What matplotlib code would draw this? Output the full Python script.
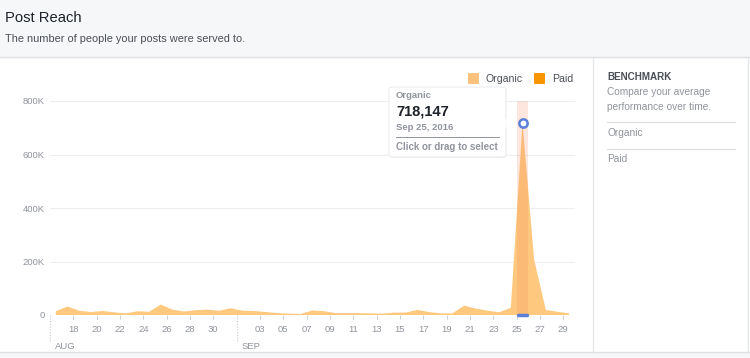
import matplotlib
matplotlib.use("Agg")
import matplotlib.pyplot as plt
import matplotlib.dates as mdates
from matplotlib.patches import Rectangle, FancyBboxPatch, Polygon
from matplotlib.lines import Line2D
import pandas as pd

plt.rcParams['font.family'] = ['Liberation Sans', 'DejaVu Sans']

# ---------------- data ----------------
dates = pd.date_range("2016-08-16", "2016-09-29", freq="D")
organic = [14000, 32000, 16000, 11000, 15000, 10000, 6000, 14000, 12000, 39000,   # Aug 16-25
           20000, 13000, 18000, 20000, 16000, 25000,                              # Aug 26-31
           16000, 15000, 11000, 7000, 5000, 4000, 17000, 14000, 7000, 7000,       # Sep 1-10
           7000, 6000, 5000, 9000, 9000, 19000, 11000, 6000, 6000, 35000,         # Sep 11-20
           24000, 16000, 10000, 27000, 718147, 206000, 19000, 12000, 6000]        # Sep 21-29
paid = [0] * len(organic)
yticks = [0, 200000, 400000, 600000, 800000]
ytick_labels = ["0", "200K", "400K", "600K", "800K"]
label_days = ["2016-08-18", "2016-08-20", "2016-08-22", "2016-08-24", "2016-08-26",
              "2016-08-28", "2016-08-30", "2016-09-03", "2016-09-05", "2016-09-07",
              "2016-09-09", "2016-09-11", "2016-09-13", "2016-09-15", "2016-09-17",
              "2016-09-19", "2016-09-21", "2016-09-23", "2016-09-25", "2016-09-27",
              "2016-09-29"]
month_starts = ["2016-08-16", "2016-09-01"]
month_labels = ["AUG", "SEP"]
hover_date = "2016-09-25"
hover_value = 718147

W, H = 750, 358
fig = plt.figure(figsize=(W / 100, H / 100), dpi=100)
fig.patch.set_facecolor("white")


def fx(px):
    return px / W


def fy(py):
    return 1 - py / H


# header background
fig.add_artist(Rectangle((0, fy(57)), 1, 57 / H, transform=fig.transFigure,
                         facecolor="#f6f7f9", edgecolor="none", zorder=0))
fig.add_artist(Line2D([0, 1], [fy(57), fy(57)], transform=fig.transFigure,
                      color="#dddfe2", lw=1))
# bottom band
fig.add_artist(Rectangle((0, 0), 1, (H - 352) / H, transform=fig.transFigure,
                         facecolor="#f6f7f9", edgecolor="none", zorder=0))
fig.add_artist(Line2D([0, 1], [fy(352), fy(352)], transform=fig.transFigure,
                      color="#dddfe2", lw=1))
# right panel separator
fig.add_artist(Line2D([fx(593), fx(593)], [fy(57), fy(352)], transform=fig.transFigure,
                      color="#e5e6e9", lw=1))
fig.add_artist(Line2D([fx(748), fx(748)], [fy(57), fy(352)], transform=fig.transFigure,
                      color="#e5e6e9", lw=1))

fig.text(fx(5), fy(18), "Post Reach", fontsize=10.6, color="#1d2129", va="center", ha="left")
fig.text(fx(5), fy(39), "The number of people your posts were served to.", fontsize=7.9,
         color="#4b4f56", va="center", ha="left")

# right panel
fig.text(fx(607), fy(77), "BENCHMARK", fontsize=7.1, fontweight="bold", color="#4b4f56",
         va="center")
fig.text(fx(607), fy(92), "Compare your average", fontsize=7.3, color="#90949c", va="center")
fig.text(fx(607), fy(107), "performance over time.", fontsize=7.3, color="#90949c", va="center")
fig.add_artist(Line2D([fx(607), fx(735)], [fy(122), fy(122)], transform=fig.transFigure,
                      color="#dddfe2", lw=0.8))
fig.text(fx(607), fy(133), "Organic", fontsize=7.3, color="#90949c", va="center")
fig.add_artist(Line2D([fx(607), fx(735)], [fy(149), fy(149)], transform=fig.transFigure,
                      color="#dddfe2", lw=0.8))
fig.text(fx(607), fy(159), "Paid", fontsize=7.3, color="#90949c", va="center")

# legend
fig.add_artist(FancyBboxPatch((fx(468), fy(84)), 11 / W, 11 / H, transform=fig.transFigure,
                              boxstyle="round,pad=0,rounding_size=0.002",
                              facecolor="#fcc27d", edgecolor="none"))
fig.text(fx(486), fy(79), "Organic", fontsize=7.6, color="#4b4f56", va="center")
fig.add_artist(FancyBboxPatch((fx(534), fy(84)), 11 / W, 11 / H, transform=fig.transFigure,
                              boxstyle="round,pad=0,rounding_size=0.002",
                              facecolor="#f79400", edgecolor="none"))
fig.text(fx(552), fy(79), "Paid", fontsize=7.6, color="#4b4f56", va="center")

# ---------------- axes ----------------
ax = fig.add_axes([fx(50), fy(315), (575 - 50) / W, (315 - 101) / H])
ax.set_facecolor("none")
x0 = mdates.date2num(pd.Timestamp("2016-08-16"))
x1 = mdates.date2num(pd.Timestamp("2016-09-30"))
xs = mdates.date2num(dates) + 0.5
ax.set_xlim(x0, x1)
ax.set_ylim(0, 800000)

ax.stackplot(xs, organic, paid, colors=["#ffc87f", "#f79400"], linewidth=0, zorder=2)

hd = mdates.date2num(pd.Timestamp(hover_date))
ax.axvspan(hd, hd + 1, color="#f0825a", alpha=0.2, lw=0, zorder=3)

for y in yticks[1:]:
    ax.axhline(y, color="#eceef1", lw=0.8, zorder=1)
ax.axhline(0, color="#dddfe2", lw=0.8, zorder=1)

ax.set_yticks(yticks)
ax.set_yticklabels(ytick_labels)
ax.tick_params(axis="y", length=0, pad=4, labelsize=6.8, labelcolor="#90949c")
lt = mdates.date2num(pd.to_datetime(label_days))
ax.set_xticks(lt)
ax.set_xticklabels([d[-2:] for d in label_days])
ax.tick_params(axis="x", length=3, width=0.6, color="#c5c7cc", pad=4, labelsize=6.8,
               labelcolor="#90949c")
for s in ax.spines.values():
    s.set_visible(False)

# month dividers
for md, ml in zip(month_starts, month_labels):
    mx = mdates.date2num(pd.Timestamp(md))
    ax.plot([mx, mx], [0, -0.12], transform=ax.get_xaxis_transform(), clip_on=False,
            color="#c5c7cc", lw=0.8, ls=(0, (1, 1.5)))
    ax.text(mx + 0.4, -0.145, ml, transform=ax.get_xaxis_transform(), fontsize=6.8,
            color="#90949c", va="center", ha="left")

# hover marker and selection bar
ax.plot([hd + 0.5], [hover_value], marker="o", ms=6, mfc="white", mec="#5b7fdb", mew=1.8,
        zorder=6, clip_on=False)
ax.plot([hd + 0.1, hd + 0.9], [0, 0], color="#5b7fdb", lw=2.5, solid_capstyle="round",
        zorder=6, clip_on=False)

# tooltip (with faint shadow)
fig.add_artist(FancyBboxPatch((fx(389) + 0.5 / W, fy(158)), (506 - 389) / W, (157 - 87) / H,
                              transform=fig.transFigure,
                              boxstyle="round,pad=0,rounding_size=0.006",
                              facecolor="#e6e7ea", edgecolor="none", alpha=0.6, zorder=9))
fig.add_artist(FancyBboxPatch((fx(389), fy(157)), (506 - 389) / W, (157 - 87) / H,
                              transform=fig.transFigure,
                              boxstyle="round,pad=0,rounding_size=0.006",
                              facecolor="white", edgecolor="#ebecef", lw=0.8, zorder=10))
fig.add_artist(Polygon([[fx(506) - 0.5 / W, fy(118)], [fx(511), fy(123)],
                        [fx(506) - 0.5 / W, fy(128)]],
                       closed=True, transform=fig.transFigure, facecolor="white",
                       edgecolor="none", zorder=11))
fig.text(fx(396), fy(96), "Organic", fontsize=6.8, fontweight="bold", color="#90949c",
         va="center", zorder=12)
fig.text(fx(396), fy(111), "718,147", fontsize=10.5, fontweight="bold", color="#1d2129",
         va="center", zorder=12)
fig.text(fx(396), fy(127), "Sep 25, 2016", fontsize=6.8, fontweight="bold", color="#90949c",
         va="center", zorder=12)
fig.add_artist(Line2D([fx(396), fx(499)], [fy(137), fy(137)], transform=fig.transFigure,
                      color="#90949c", lw=0.7, zorder=12))
fig.text(fx(396), fy(147), "Click or drag to select", fontsize=7.0, fontweight="bold",
         color="#90949c", va="center", zorder=12)

fig.savefig("out.png", dpi=100)
